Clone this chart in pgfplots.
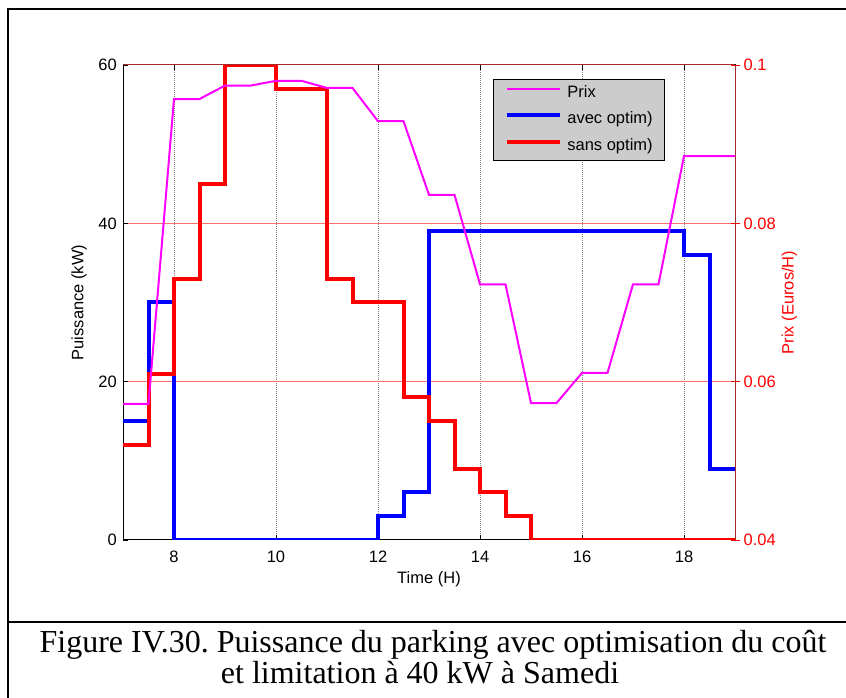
\documentclass[border=0pt]{standalone}
\usepackage{fontspec}
\setmainfont{Liberation Sans}
\newfontfamily\capfont{Liberation Serif}
\usepackage{pgfplots}
\pgfplotsset{compat=1.18}

\definecolor{axred}{RGB}{165,42,42}
\definecolor{pinkgrid}{RGB}{255,110,110}
\definecolor{prix}{RGB}{255,0,255}
\definecolor{pblue}{RGB}{0,0,255}
\definecolor{pred}{RGB}{255,0,0}
\definecolor{legfill}{RGB}{204,204,204}
\newcommand\pf{\fontsize{16.5bp}{19bp}\selectfont}
\frenchspacing

\pgfplotsset{
  base/.style={
    scale only axis, width=612bp, height=475bp,
    at={(123bp,158bp)}, anchor=south west,
    xmin=7, xmax=19,
    tick label style={font=\pf},
    /pgf/number format/assume math mode=true,
  },
}

\begin{document}
\begin{tikzpicture}
\useasboundingbox (0,0) rectangle (846bp,698bp);

% puissance, axe gauche
\begin{axis}[base,
  ymin=0, ymax=60,
  xtick={8,10,...,18}, ytick={0,20,40,60},
  xtick pos=both, ytick pos=left, tick align=inside,
  major tick length=5bp,
  tick style={black, line width=0.75bp},
  axis line style={line width=1bp},
  xmajorgrids=true, ymajorgrids=true,
  grid style={pinkgrid, solid, line width=1bp},
  x grid style={gray, densely dotted, line width=0.75bp},
  xticklabel style={anchor=base, inner sep=0pt, yshift=-23bp},
  yticklabel style={anchor=east, inner sep=0pt, xshift=-6bp},
  xlabel={Time (H)}, ylabel={Puissance (kW)},
  every axis x label/.style={at={(rel axis cs:0.5,0)}, anchor=base, yshift=-44bp, font=\pf},
  every axis y label/.style={at={(rel axis cs:-0.0649,0.5)}, anchor=base, rotate=90, font=\pf},
]
\addplot[const plot, no marks, pblue, line width=4bp] coordinates {
  (7,15) (7.5,30) (8,0) (12,3) (12.5,6) (13,39) (18,36) (18.5,9) (19,9)};
\addplot[const plot, no marks, pred, line width=4bp] coordinates {
  (7,12) (7.5,21) (8,33) (8.5,45) (9,60) (10,57) (11,33) (11.5,30)
  (12.5,18) (13,15) (13.5,9) (14,6) (14.5,3) (15,0) (19,0)};
\end{axis}

% prix, axe droit
\begin{axis}[base,
  ymin=0.04, ymax=0.1,
  axis x line*=top, axis y line*=right,
  xtick=\empty,
  ytick={0.04,0.06,0.08,0.1}, yticklabels={0.04,0.06,0.08,0.1},
  axis line style={-, axred, line width=1bp},
  ytick style={pred, line width=0.75bp}, tick align=center, major tick length=9bp,
  yticklabel style={anchor=west, inner sep=0pt, xshift=4bp, text=pred},
  ylabel={Prix (Euros/H)},
  every axis y label/.style={at={(rel axis cs:1.0958,0.5)}, anchor=base, rotate=90, text=pred, font=\pf},
  legend style={at={(rel axis cs:0.6046,0.9705)}, anchor=north west,
    fill=legfill, draw=black, line width=0.75bp, font=\pf,
    inner xsep=12bp, inner ysep=6.5bp, row sep=11bp,
    nodes={inner sep=0pt, text height=11.8bp, text depth=3.5bp},
    /tikz/every odd column/.append style={column sep=5bp}},
  legend cell align=left,
  legend image code/.code={\draw[#1] (0bp,4.5bp) -- (53bp,4.5bp);},
]
\addplot[no marks, prix, line width=2bp] coordinates {
  (7,0.0572) (7.5,0.0572) (8,0.0957) (8.5,0.0957) (9,0.0974) (9.5,0.0974)
  (10,0.0980) (10.5,0.0980) (11,0.0971) (11.5,0.0971) (12,0.0929) (12.5,0.0929)
  (13,0.0836) (13.5,0.0836) (14,0.0723) (14.5,0.0723) (15,0.0573) (15.5,0.0573)
  (16,0.0611) (16.5,0.0611) (17,0.0723) (17.5,0.0723) (18,0.0885) (19,0.0885)};
\addlegendentry{Prix}
\addlegendimage{pblue, line width=4bp}
\addlegendentry{avec optim)}
\addlegendimage{pred, line width=4bp}
\addlegendentry{sans optim)}
\end{axis}

% cadre et legende de la figure
\draw[line width=2bp] (8bp,0) -- (8bp,689bp) -- (846bp,689bp);
\draw[line width=2bp] (8bp,75.5bp) -- (846bp,75.5bp);
\node[font=\capfont\fontsize{32bp}{36bp}\selectfont, anchor=base, inner sep=0pt]
  at (433bp,45bp) {Figure IV.30. Puissance du parking avec optimisation du coût};
\node[font=\capfont\fontsize{32bp}{36bp}\selectfont, anchor=base, inner sep=0pt]
  at (420bp,15bp) {et limitation à 40 kW à Samedi};
\end{tikzpicture}
\end{document}
